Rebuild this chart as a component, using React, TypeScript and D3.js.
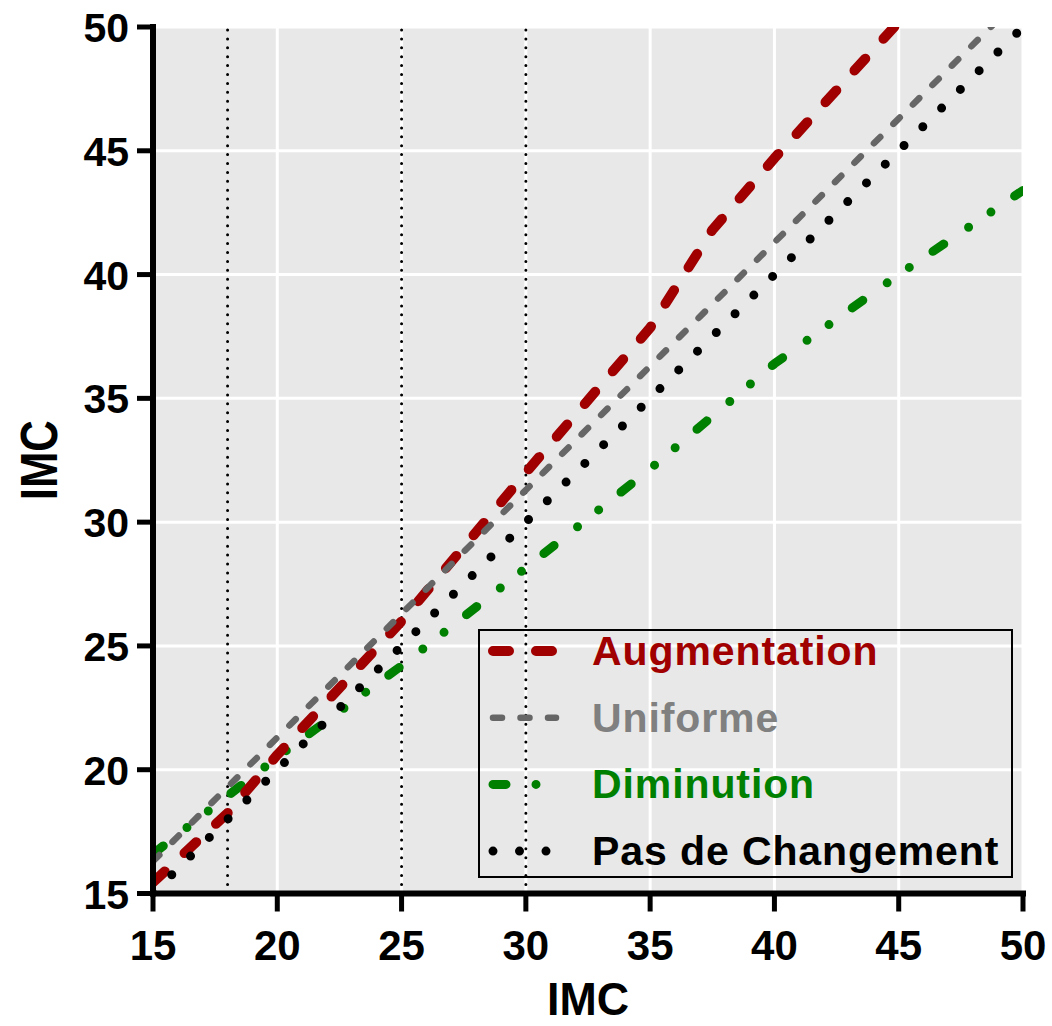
import React from 'react';
import * as d3 from "d3";

// values
const augX = [15, 18, 20, 25, 30, 35, 37.5, 40, 45];
const augY = [15.45, 18.25, 20.6, 26.0, 32.0, 37.85, 41.8, 44.7, 50.2];

const uniX = [15, 20, 25, 30, 35, 40, 45, 50];
const uniY = [16.3, 21.3, 26.3, 31.3, 36.3, 41.3, 46.3, 51.3];

const dimX = [15, 20, 25, 30, 35, 40, 45, 50];
const dimY = [16.6, 20.5, 24.2, 28.15, 32.15, 36.4, 40.0, 43.4];

const pasX = [15, 50];
const pasY = [15, 50];

const refLines = [18, 25, 30];
const ticks = [15, 20, 25, 30, 35, 40, 45, 50];

const seriesNames = ["Augmentation", "Uniforme", "Diminution", "Pas de Changement"];

const FONT = "'Liberation Sans', Arial, Helvetica, sans-serif";

const App = () => {
    const width = 1052,
        height = 1026;

    const xScale = d3.scaleLinear().domain([15, 50]).range([153, 1023]);
    const yScale = d3.scaleLinear().domain([15, 50]).range([893.5, 27]);

    const lineGenerator = d3.line<number[]>()
        .x(d => xScale(d[0]))
        .y(d => yScale(d[1]));

    const zip = (xs: number[], ys: number[]) => xs.map((x, i) => [x, ys[i]]);

    // drawing order: green, red, gray, black
    const series = [
        { name: seriesNames[2], pts: zip(dimX, dimY), color: "#008000", w: 9, dash: "13 30 0 27 0 28.6", text: "#008000" },
        { name: seriesNames[0], pts: zip(augX, augY), color: "#a00000", w: 10, dash: "16 27", text: "#a00000" },
        { name: seriesNames[1], pts: zip(uniX, uniY), color: "#666666", w: 6.5, dash: "9 18.5", text: "#808080" },
        { name: seriesNames[3], pts: zip(pasX, pasY), color: "#000000", w: 9, dash: "0 26.5", text: "#000000" },
    ];

    const [x0, x1] = xScale.range();
    const [y0, y1] = yScale.range();

    return (
        <svg width={width} height={height} style={{ position: "absolute", left: 0, top: 0, background: "#fff" }}>
            <defs>
                <clipPath id="plot-clip">
                    <rect x={x0} y={y1} width={x1 - x0} height={y0 - y1} />
                </clipPath>
            </defs>
            <rect x={x0} y={y1} width={x1 - x0} height={y0 - y1} fill="#e8e8e8" />
            {ticks.map(t => (
                <g key={"g" + t}>
                    <line x1={xScale(t)} x2={xScale(t)} y1={y1} y2={y0} stroke="#fff" strokeWidth={3} />
                    <line x1={x0} x2={x1} y1={yScale(t)} y2={yScale(t)} stroke="#fff" strokeWidth={3} />
                </g>
            ))}
            {refLines.map(r => (
                <line key={"r" + r} x1={xScale(r)} x2={xScale(r)} y1={y1 + 3} y2={y0}
                    stroke="#000" strokeWidth={3} strokeLinecap="round" strokeDasharray="0 8.9" />
            ))}
            <g clipPath="url(#plot-clip)">
                {series.map(s => (
                    <path key={s.name} d={lineGenerator(s.pts) || ""} fill="none" stroke={s.color}
                        strokeWidth={s.w} strokeLinecap="round" strokeLinejoin="round" strokeDasharray={s.dash} />
                ))}
            </g>

            {/* legend */}
            <rect x={479} y={630} width={533} height={247} fill="none" stroke="#000" strokeWidth={2} />
            {seriesNames.map((name, i) => {
                const s = series.find(d => d.name === name)!;
                const base = 665 + i * 66.7;
                return (
                    <g key={"l" + i}>
                        <line x1={493} x2={556} y1={base - 14} y2={base - 14} stroke={s.color} strokeWidth={s.w}
                            strokeLinecap="round" strokeDasharray={s.dash} />
                        <text x={592} y={base} fill={s.text} fontFamily={FONT} fontWeight="bold"
                            fontSize={41} letterSpacing={0.9}>{name}</text>
                    </g>
                );
            })}

            {/* axes */}
            <line x1={x0} x2={x0} y1={y1 - 3} y2={y0 + 3} stroke="#000" strokeWidth={6} />
            <line x1={x0 - 3} x2={x1 + 3} y1={y0} y2={y0} stroke="#000" strokeWidth={6} />
            {ticks.map(t => (
                <g key={"t" + t}>
                    <line x1={xScale(t)} x2={xScale(t)} y1={y0} y2={y0 + 18} stroke="#000" strokeWidth={5} />
                    <text x={xScale(t)} y={960} textAnchor="middle" fontFamily={FONT} fontWeight="bold" fontSize={42}>{t}</text>
                    <line x1={x0 - 16} x2={x0} y1={yScale(t)} y2={yScale(t)} stroke="#000" strokeWidth={5} />
                    <text x={129} y={yScale(t) + 15} textAnchor="end" fontFamily={FONT} fontWeight="bold" fontSize={41}>{t}</text>
                </g>
            ))}
            <text x={(x0 + x1) / 2} y={1015} textAnchor="middle" fontFamily={FONT} fontWeight="bold" fontSize={46}
                textLength={82} lengthAdjust="spacingAndGlyphs">IMC</text>
            <text transform={`translate(57,${(y0 + y1) / 2}) rotate(-90)`} textAnchor="middle" fontFamily={FONT}
                fontWeight="bold" fontSize={51} textLength={80} lengthAdjust="spacingAndGlyphs">IMC</text>
        </svg>
    );
}

export default App;
